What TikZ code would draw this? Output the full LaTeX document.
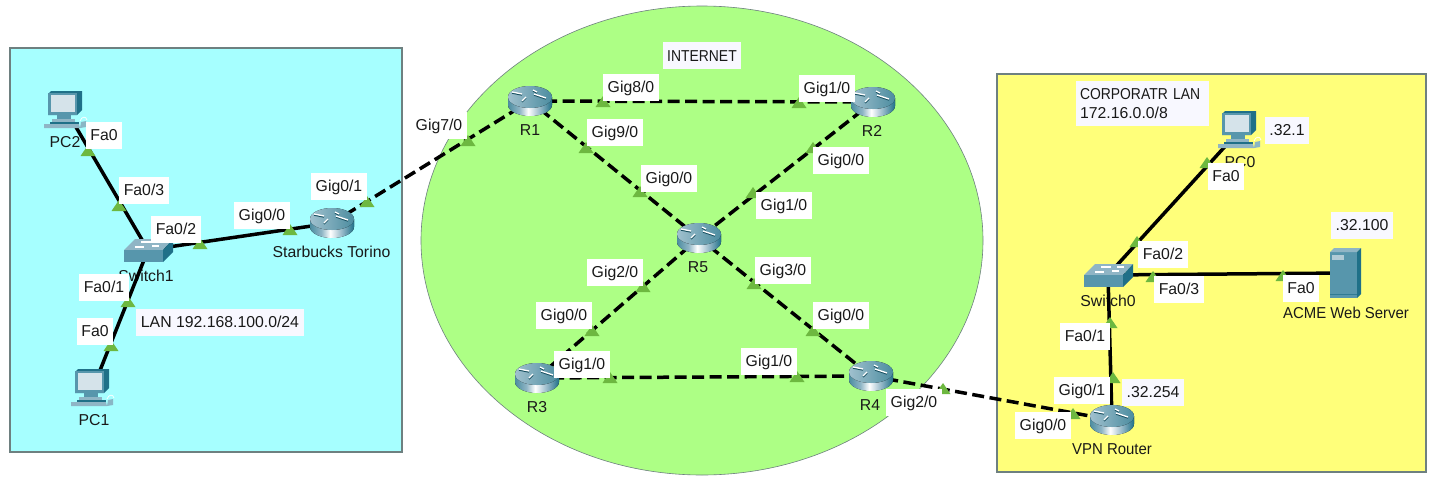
\documentclass[tikz,border=0pt]{standalone}
\usepackage{fontspec}
\setmainfont{Liberation Sans}
\newfontfamily\narrowcaps[FakeStretch=0.88]{Liberation Sans}
\newfontfamily\slimcaps[FakeStretch=0.945]{Liberation Sans}
\definecolor{cyanzone}{HTML}{A6FFFF}
\definecolor{yellowzone}{HTML}{FFFF7A}
\definecolor{greenzone}{HTML}{ADFF85}
\definecolor{zoneline}{HTML}{6E8080}
\definecolor{portgreen}{HTML}{6DB840}
\definecolor{paleband}{HTML}{F8F8FF}
\definecolor{tealfront}{HTML}{5796AC}
\definecolor{tealtop}{HTML}{8FB5C5}
\definecolor{tealside}{HTML}{1F7088}
\definecolor{screenc}{HTML}{D5E3EA}
\pgfdeclarehorizontalshading{routerbody}{100bp}{color(0bp)=(tealside!80!white); color(25bp)=(tealside!80!white); color(38bp)=(tealtop); color(48bp)=(white); color(62bp)=(tealtop); color(75bp)=(tealside); color(100bp)=(tealside)}
\tikzset{
  every node/.style={font=\fontsize{15.8}{18.5}\selectfont,text=black!90},
  lab/.style={fill=white,inner xsep=4.5pt,inner ysep=0pt,minimum height=27pt,text height=11.5pt,text depth=0pt},
  note/.style={lab,fill=paleband},
  devname/.style={inner sep=0pt},
  routerdev/.style={inner sep=0pt,minimum width=30pt,minimum height=16pt},
  switchdev/.style={inner sep=0pt,minimum width=30pt,minimum height=14pt},
  pcdev/.style={inner sep=0pt,minimum width=20pt,minimum height=24pt},
  serverdev/.style={inner sep=0pt,minimum width=24pt,minimum height=40pt},
  solidlink/.style={line width=3.5pt,black},
  dashlink/.style={line width=3.5pt,black,dash pattern=on 12pt off 5.5pt},
  zone/.style={draw=zoneline,line width=1.6pt},
  pics/porttri/.style={code={\fill[portgreen] (-7.5,0) -- (7.5,0) -- (0,-11) -- cycle;}},
  pics/routerico/.style={code={
    \fill[shading=routerbody] (-22,4) .. controls (-22,10) and (-12,15) .. (0,15) .. controls (12,15) and (22,10) .. (22,4) -- (22,-4) -- (-22,-4) -- cycle;
    \fill[left color=tealtop!85!white,right color=tealside!80!white] (0,-4) ellipse [x radius=22,y radius=11];
    \draw[tealside!70!black,line width=1.4pt] (-18,-8) -- (-8,-6) (3,-10) -- (7,-8) (4,-6) -- (16,-2) (-8,1) -- (-4,-3);
    \draw[white,line width=1.3pt] (-18,-9) -- (-8,-7) (3,-11) -- (7,-9) (4,-7) -- (16,-3) (-8,0) -- (-4,-4);
  }},
  pics/switchico/.style={code={
    \fill[tealtop] (-13,-11) -- (25,-11) -- (15,0) -- (-24,0) -- cycle;
    \fill[tealfront] (-24,0) rectangle (15,12);
    \fill[tealside] (15,0) -- (25,-11) -- (25,2) -- (15,12) -- cycle;
    \draw[white,line width=1.1pt] (-7,-8) -- (3,-8) (9,-8) -- (16,-8) (-13,-3) -- (-4,-3) (4,-4) -- (11,-4);
  }},
  pics/pcico/.style={code={
    \fill[tealside] (-15,-19) -- (16,-19) -- (16,0) -- (11,5) -- (-18,5) -- (-18,-16) -- cycle;
    \fill[tealfront] (-18,-17) rectangle (11,5);
    \fill[screenc] (-15,-15) rectangle (9,1.5);
    \fill[tealfront] (-9,5) rectangle (5,9);
    \fill[tealtop] (-14,9) -- (9,9) -- (9,12) -- (-14,12) -- cycle;
    \fill[tealside] (-16,12) -- (13,12) -- (13,14) -- (-16,14) -- cycle;
    \fill[tealtop] (-22,14) -- (13,14) -- (14,18) -- (-22,18) -- cycle;
    \draw[white,line width=.7pt] (14,11) .. controls (16,6) and (20,6) .. (21,10);
    \fill[tealfront!70!white] (15,12) -- (20,11) -- (20,17) -- (14,18) -- cycle;
  }},
  pics/serverico/.style={code={
    \fill[tealfront] (-15,-21) rectangle (12,25);
    \fill[tealtop] (-15,-21) -- (-11,-25) -- (16,-25) -- (12,-21) -- cycle;
    \fill[tealside] (12,-21) -- (16,-25) -- (16,21) -- (12,25) -- cycle;
    \fill[tealtop!70!white] (-13,-18) rectangle (-1,-13);
    \fill[tealside!70!tealfront] (-15,21) rectangle (12,22);
  }},
}
\begin{document}
\begin{tikzpicture}[x=1pt,y=-1pt]
\useasboundingbox (0,0) rectangle (1436,488);
% zones
\fill[white] (0,0) rectangle (1436,488);
\draw[draw=zoneline,line width=.6pt,fill=greenzone] (702,240.5) ellipse [x radius=281,y radius=234.5];
\draw[zone,fill=cyanzone] (10,48) rectangle (402,452);
\draw[zone,fill=yellowzone] (997,74) rectangle (1426,472);
% devices (anchors for the links)
\node[pcdev] (PC2) at (66,110) {};
\node[pcdev] (PC1) at (93,388) {};
\node[pcdev] (PC0) at (1240,130) {};
\node[switchdev] (Switch1) at (148,250) {};
\node[switchdev] (Switch0) at (1108,275) {};
\node[routerdev] (Starbucks) at (332,223) {};
\node[routerdev] (R1) at (530,101) {};
\node[routerdev] (R2) at (873,102) {};
\node[routerdev] (R5) at (699,238) {};
\node[routerdev] (R3) at (537,378) {};
\node[routerdev] (R4) at (871,376) {};
\node[routerdev] (VPN) at (1112,420) {};
\node[serverdev] (Server) at (1345,273) {};
% device names
\node[devname] (tPC2) at (65,142) {PC2};
\node[devname] (tPC1) at (94,420) {PC1};
\node[devname] (tPC0) at (1240,162) {PC0};
\node[devname] (tSw1) at (146,276) {Switch1};
\node[devname] (tSw0) at (1108,301) {Switch0};
\node[devname] (tSb) at (331.5,252) {Starbucks Torino};
\node[devname] (tR1) at (530,130) {R1};
\node[devname] (tR2) at (872,131) {R2};
\node[devname] (tR5) at (698,267) {R5};
\node[devname] (tR3) at (537,407) {R3};
\node[devname] (tR4) at (870,405) {R4};
\node[devname] (tVPN) at (1112,449) {\slimcaps VPN Router};
\node[devname] (tSrv) at (1346,313) {\slimcaps ACME Web Server};
% links
\draw[solidlink] (PC2) -- (Switch1);
\draw[solidlink] (PC1) -- (Switch1);
\draw[solidlink] (Switch1) -- (Starbucks);
\draw[solidlink] (Switch0) -- (PC0);
\draw[solidlink] (Switch0) -- (Server);
\draw[solidlink] (Switch0) -- (VPN);
\draw[dashlink] (Starbucks) -- (R1);
\draw[dashlink] (R1) -- (R2);
\draw[dashlink] (R1) -- (R5);
\draw[dashlink] (R2) -- (R5);
\draw[dashlink] (R5) -- (R3);
\draw[dashlink] (R5) -- (R4);
\draw[dashlink] (R3) -- (R4);
\draw[dashlink] (R4) -- (VPN);
% port markers
\foreach \px/\py in {88/156,119/211,200/249,290/235,367/207,128/307,111/351,468/146,
  603/107,799/108,586/153,640/197,813/153,753/198,643/292,754/289,592/336,813/336,610/383,797/382,943/394,
  1207/168,1137/247,1153/282,1283/281,1110/328,1113/383,1073/419}
  \pic at (\px,\py) {porttri};
% icons
\pic at (PC2) {pcico};
\pic at (PC1) {pcico};
\pic at (PC0) {pcico};
\pic at (Switch1) {switchico};
\pic at (Switch0) {switchico};
\foreach \r in {Starbucks,R1,R2,R5,R3,R4,VPN} \pic at (\r) {routerico};
\pic at (Server) {serverico};
% port labels
\node[lab] (l1) at (104,135) {Fa0};
\node[lab] (l2) at (144,190) {Fa0/3};
\node[lab] (l3) at (176,229) {Fa0/2};
\node[lab] (l4) at (262,215) {Gig0/0};
\node[lab] (l5) at (339,186) {Gig0/1};
\node[lab] (l6) at (104,287) {Fa0/1};
\node[lab] (l7) at (95,331) {Fa0};
\node[note] (lan) at (220,322) {LAN 192.168.100.0/24};
\node[lab] (l8) at (439,125) {Gig7/0};
\node[note,minimum width=78pt] (inet) at (702,55.5) {\narrowcaps INTERNET};
\node[lab] (l9) at (631,87) {Gig8/0};
\node[lab] (l10) at (827,88) {Gig1/0};
\node[lab] (l11) at (615,132) {Gig9/0};
\node[lab] (l12) at (669,178) {Gig0/0};
\node[lab] (l13) at (841,160) {Gig0/0};
\node[lab] (l14) at (784,205) {Gig1/0};
\node[lab] (l15) at (615,272) {Gig2/0};
\node[lab] (l16) at (783,270) {Gig3/0};
\node[lab] (l17) at (564,315) {Gig0/0};
\node[lab] (l18) at (841,315) {Gig0/0};
\node[lab] (l19) at (582,364) {Gig1/0};
\node[lab] (l20) at (769,361) {Gig1/0};
\node[lab] (l21) at (914,402) {Gig2/0};
\node[fill=paleband,inner xsep=4pt,inner ysep=0pt,minimum height=45pt,text width=125pt,align=left] (corp) at (1142.5,103.5) {{\narrowcaps CORPORATR LAN}\\172.16.0.0/8};
\node[note] (a1) at (1287,130) {.32.1};
\node[lab] (l22) at (1226,176) {Fa0};
\node[lab] (l23) at (1163,254) {Fa0/2};
\node[lab] (l24) at (1179,289) {Fa0/3};
\node[lab] (l25) at (1301,288) {Fa0};
\node[note] (a2) at (1362,225) {.32.100};
\node[lab] (l26) at (1085,336) {Fa0/1};
\node[lab] (l27) at (1082,390) {Gig0/1};
\node[note] (a3) at (1153,392) {.32.254};
\node[lab] (l28) at (1043,425) {Gig0/0};
\end{tikzpicture}
\end{document}
